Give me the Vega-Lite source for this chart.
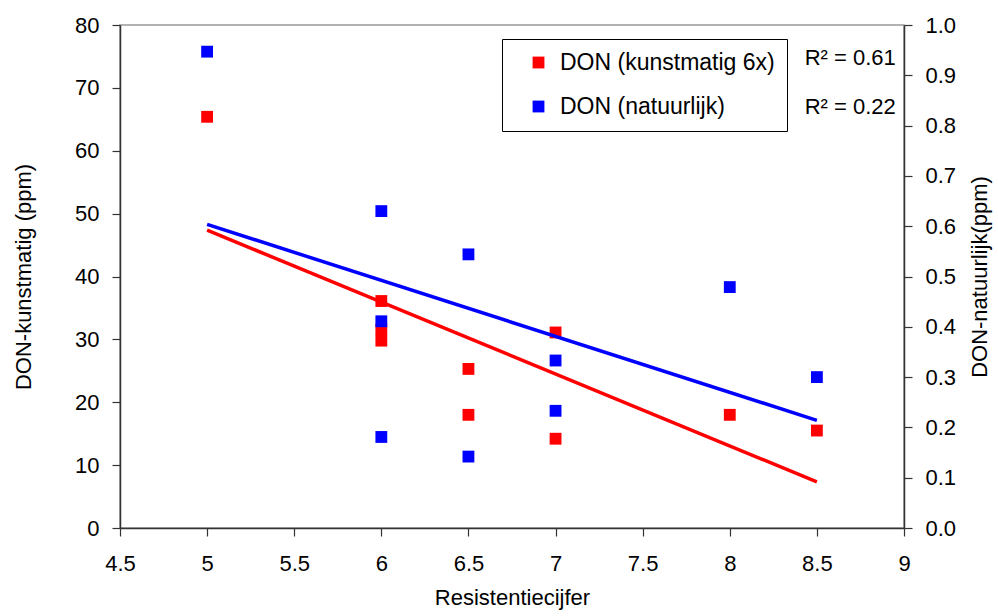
{
  "$schema": "https://vega.github.io/schema/vega-lite/v6.json",
  "width": 784,
  "height": 503,
  "autosize": {"type": "none"},
  "padding": {"left": 120, "top": 25, "right": 94, "bottom": 88},
  "background": "white",
  "config": {
    "font": "Liberation Sans",
    "view": {"stroke": "#999999", "strokeWidth": 1.5},
    "axis": {
      "grid": false,
      "domainColor": "#333333",
      "domainWidth": 1.5,
      "tickColor": "#333333",
      "tickWidth": 1.2,
      "tickSize": 8,
      "labelColor": "#000000",
      "labelFontSize": 22,
      "labelFont": "Liberation Sans",
      "titleColor": "#000000",
      "titleFontSize": 22,
      "titleFont": "Liberation Sans",
      "titleFontWeight": "normal"
    },
    "legend": {
      "orient": "none",
      "legendX": 382,
      "legendY": 14,
      "strokeColor": "#000000",
      "strokeWidth": 1,
      "fillColor": "#ffffff",
      "padding": 12,
      "symbolOffset": 13,
      "symbolType": "square",
      "symbolSize": 140,
      "symbolStrokeWidth": 0,
      "labelFontSize": 23,
      "labelFont": "Liberation Sans",
      "labelColor": "#000000",
      "labelOffset": 10,
      "labelLimit": 400,
      "rowPadding": 20,
      "title": null
    }
  },
  "datasets": {
    "kunst": [
      {"x": 5, "value": 65.4, "series": "DON (kunstmatig 6x)"},
      {"x": 6, "value": 36.1, "series": "DON (kunstmatig 6x)"},
      {"x": 6, "value": 31.6, "series": "DON (kunstmatig 6x)"},
      {"x": 6, "value": 29.8, "series": "DON (kunstmatig 6x)"},
      {"x": 6.5, "value": 25.3, "series": "DON (kunstmatig 6x)"},
      {"x": 6.5, "value": 18.0, "series": "DON (kunstmatig 6x)"},
      {"x": 7, "value": 31.1, "series": "DON (kunstmatig 6x)"},
      {"x": 7, "value": 14.2, "series": "DON (kunstmatig 6x)"},
      {"x": 8, "value": 18.0, "series": "DON (kunstmatig 6x)"},
      {"x": 8.5, "value": 15.5, "series": "DON (kunstmatig 6x)"}
    ],
    "natuur": [
      {"x": 5, "value": 0.947, "series": "DON (natuurlijk)"},
      {"x": 6, "value": 0.630, "series": "DON (natuurlijk)"},
      {"x": 6, "value": 0.411, "series": "DON (natuurlijk)"},
      {"x": 6, "value": 0.181, "series": "DON (natuurlijk)"},
      {"x": 6.5, "value": 0.544, "series": "DON (natuurlijk)"},
      {"x": 6.5, "value": 0.142, "series": "DON (natuurlijk)"},
      {"x": 7, "value": 0.333, "series": "DON (natuurlijk)"},
      {"x": 7, "value": 0.233, "series": "DON (natuurlijk)"},
      {"x": 8, "value": 0.479, "series": "DON (natuurlijk)"},
      {"x": 8.5, "value": 0.300, "series": "DON (natuurlijk)"}
    ],
    "r2": [
      {"label": "R² = 0.61"}
    ],
    "r2b": [
      {"label": "R² = 0.22"}
    ]
  },
  "layer": [
    {
      "data": {"name": "kunst"},
      "layer": [
        {
          "transform": [{"regression": "value", "on": "x"}],
          "mark": {"type": "line", "color": "#ff0000", "strokeWidth": 3.5},
          "encoding": {
            "x": {"field": "x", "type": "quantitative"},
            "y": {"field": "value", "type": "quantitative"}
          }
        },
        {
          "mark": {"type": "square", "filled": true, "size": 140, "opacity": 1},
          "encoding": {
            "x": {
              "field": "x", "type": "quantitative",
              "scale": {"domain": [4.5, 9], "nice": false, "zero": false},
              "axis": {
                "title": "Resistentiecijfer",
                "values": [4.5, 5, 5.5, 6, 6.5, 7, 7.5, 8, 8.5, 9],
                "format": "~g",
                "labelPadding": 17,
                "titlePadding": 13,
                "labelFlush": false
              }
            },
            "y": {
              "field": "value", "type": "quantitative",
              "scale": {"domain": [0, 80], "nice": false},
              "axis": {
                "orient": "left",
                "title": "DON-kunstmatig (ppm)",
                "values": [0, 10, 20, 30, 40, 50, 60, 70, 80],
                "labelPadding": 13,
                "titlePadding": 39,
                "labelFlush": false
              }
            },
            "color": {
              "field": "series", "type": "nominal",
              "scale": {"domain": ["DON (kunstmatig 6x)", "DON (natuurlijk)"], "range": ["#ff0000", "#0000ff"]},
              "legend": {"labelExpr": "datum.label + '\u00a0\u00a0'"}
            }
          }
        },
        {
          "data": {"name": "r2"},
          "mark": {"type": "text", "align": "left", "baseline": "alphabetic", "fontSize": 22, "fontWeight": "normal", "font": "Liberation Sans", "color": "#000000"},
          "encoding": {
            "x": {"datum": 8.43, "type": "quantitative"},
            "y": {"datum": 73.6, "type": "quantitative"},
            "text": {"field": "label"}
          }
        },
        {
          "data": {"name": "r2b"},
          "mark": {"type": "text", "align": "left", "baseline": "alphabetic", "fontSize": 22, "fontWeight": "normal", "font": "Liberation Sans", "color": "#000000"},
          "encoding": {
            "x": {"datum": 8.43, "type": "quantitative"},
            "y": {"datum": 65.8, "type": "quantitative"},
            "text": {"field": "label"}
          }
        }
      ]
    },
    {
      "data": {"name": "natuur"},
      "layer": [
        {
          "transform": [{"regression": "value", "on": "x"}],
          "mark": {"type": "line", "color": "#0000ff", "strokeWidth": 3.5},
          "encoding": {
            "x": {"field": "x", "type": "quantitative"},
            "y": {"field": "value", "type": "quantitative"}
          }
        },
        {
          "mark": {"type": "square", "filled": true, "size": 140, "opacity": 1},
          "encoding": {
            "x": {"field": "x", "type": "quantitative"},
            "y": {
              "field": "value", "type": "quantitative",
              "scale": {"domain": [0, 1], "nice": false},
              "axis": {
                "orient": "right",
                "title": "DON-natuurlijk(ppm)",
                "titleAngle": 270,
                "values": [0, 0.1, 0.2, 0.3, 0.4, 0.5, 0.6, 0.7, 0.8, 0.9, 1.0],
                "format": ".1f",
                "labelPadding": 13,
                "titlePadding": 36,
                "labelFlush": false
              }
            },
            "color": {"field": "series", "type": "nominal"}
          }
        }
      ]
    }
  ],
  "resolve": {"scale": {"y": "independent"}}
}
